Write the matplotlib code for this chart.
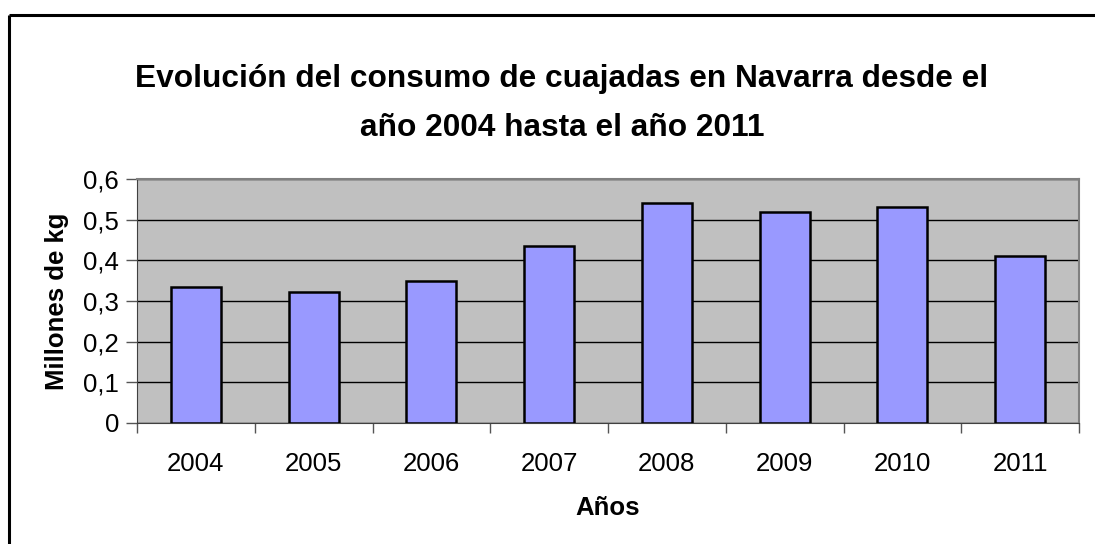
import matplotlib
matplotlib.use("Agg")
import matplotlib.pyplot as plt
from matplotlib.lines import Line2D
from matplotlib.ticker import FixedLocator, FixedFormatter

plt.rcParams['font.family'] = ['Liberation Sans', 'DejaVu Sans']

years = ['2004', '2005', '2006', '2007', '2008', '2009', '2010', '2011']
consumo = [0.334, 0.323, 0.348, 0.436, 0.541, 0.520, 0.530, 0.411]
y_ticks = [0, 0.1, 0.2, 0.3, 0.4, 0.5, 0.6]
y_tick_labels = ['0', '0,1', '0,2', '0,3', '0,4', '0,5', '0,6']

W, H = 1095, 544
fig = plt.figure(figsize=(W / 100, H / 100), dpi=100)
fig.patch.set_facecolor('white')

# chart frame: only the top and left edges fall inside the image
frame_y = 1 - 14.5 / H
frame_x = 8.5 / W
fig.lines.append(Line2D([frame_x, 1.05], [frame_y, frame_y], transform=fig.transFigure,
                        color='black', linewidth=2.2, solid_capstyle='butt'))
fig.lines.append(Line2D([frame_x, frame_x], [-0.05, frame_y], transform=fig.transFigure,
                        color='black', linewidth=2.2, solid_capstyle='butt'))

ax = fig.add_axes([137 / W, (H - 423) / H, (1079 - 137) / W, (423 - 179) / H])
ax.set_facecolor('#C0C0C0')

x = list(range(len(years)))
ax.bar(x, consumo, width=0.425, color='#9999FF', edgecolor='black',
       linewidth=1.8, zorder=3)

ax.set_xlim(-0.5, len(years) - 0.5)
ax.set_ylim(0, 0.6)

ax.yaxis.set_major_locator(FixedLocator(y_ticks))
ax.yaxis.set_major_formatter(FixedFormatter(y_tick_labels))
ax.grid(axis='y', color='black', linewidth=1.0, zorder=1)
ax.set_axisbelow(True)

ax.set_xticks(x)
ax.set_xticklabels(years)
ax.set_xticks([i - 0.5 for i in range(len(years) + 1)], minor=True)
ax.tick_params(axis='x', which='major', length=0, pad=21, labelsize=18.5)
ax.tick_params(axis='x', which='minor', length=7, width=1, color='#555555')
ax.tick_params(axis='y', length=8, width=1, pad=5, labelsize=18.5, color='#555555')

for side in ('top', 'right'):
    ax.spines[side].set_color('#808080')
    ax.spines[side].set_linewidth(1.5)
ax.spines['left'].set_color('#404040')
ax.spines['bottom'].set_color('#404040')

ax.set_xlabel('Años', fontsize=18.5, fontweight='bold', labelpad=14)
ax.set_ylabel('Millones de kg', fontsize=18.5, fontweight='bold', labelpad=10)

fig.text(562 / W, 1 - 79 / H, 'Evolución del consumo de cuajadas en Navarra desde el',
         ha='center', va='center', fontsize=22.8, fontweight='bold')
fig.text(562 / W, 1 - 128 / H, 'año 2004 hasta el año 2011',
         ha='center', va='center', fontsize=22.8, fontweight='bold')

fig.savefig('out.png', dpi=100)
